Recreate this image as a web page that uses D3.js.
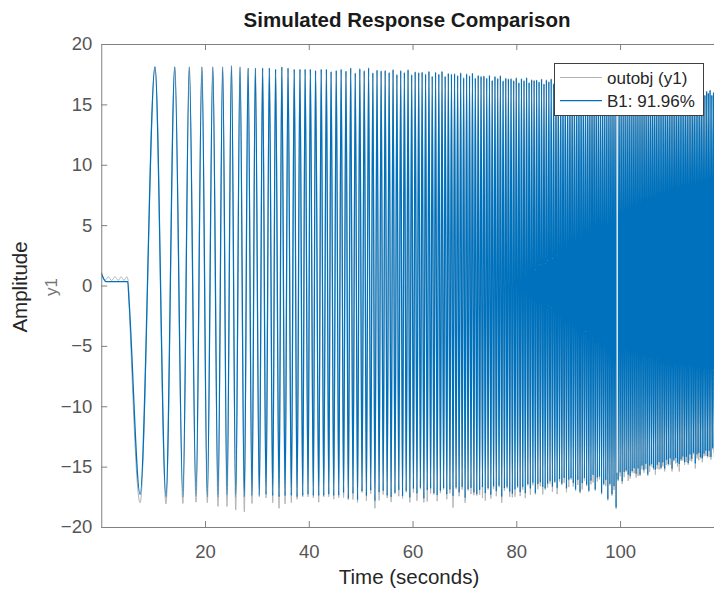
<!DOCTYPE html>
<html>
<head>
<meta charset="utf-8">
<script src="https://cdn.jsdelivr.net/npm/d3@7"></script>
<style>
  body { margin: 0; background: #fff; }
  svg { display: block; }
  text { font-family: "Liberation Sans", Arial, sans-serif; }
</style>
</head>
<body>
<svg id="chart" width="714" height="591"></svg>
<script>
// ---- values ----
const xTicks = [20, 40, 60, 80, 100];
const yTicks = [-20, -15, -10, -5, 0, 5, 10, 15, 20];
const xMax = 118.2;

// quiet start, before the sweep kicks in
const startT = [0, 0.9, 5.1, 5.35];
const startB1 = [1.05, 0.32, 0.32, -1.2];
const bumpT = [0, 0.75, 1.36, 2.0, 2.65, 3.3, 3.8, 4.4, 4.9, 5.2, 5.35];
const bumpOut = [1.0, 0.45, 0.72, 0.42, 0.72, 0.42, 0.72, 0.42, 0.72, 0.4, -1.2];

// extrema that can be read one by one (7 s .. 45 s)
const troughT = [7.49, 12.48, 15.74, 18.27, 20.44, 22.51, 24.24, 25.92, 27.58, 29.06, 30.47, 31.76,
                 33.05, 34.27, 35.43, 36.64, 37.74, 38.83, 39.86, 40.88, 41.92, 42.88, 43.85, 44.81];
const peakT = [10.36, 14.17, 16.97, 19.4, 21.5, 23.4, 25.1, 26.75, 28.3, 29.7, 31.1, 32.4,
               33.6, 34.8, 36.0, 37.2, 38.3, 39.3, 40.3, 41.3, 42.4, 43.4, 44.3, 45.3];
const peakB1 = [18.1, 18.1, 18.1, 18.1, 18.1, 18.1, 18.2, 18.1, 18.0, 18.0, 18.0, 18.0,
                17.9, 18.1, 18.0, 17.9, 17.9, 17.9, 17.9, 17.8, 17.9, 17.9, 17.7, 17.8];
const troughB1 = [-17.3, -17.5, -17.5, -17.4, -17.5, -17.5, -17.4, -17.5, -17.5, -17.4, -17.4, -17.3,
                  -17.4, -17.5, -17.4, -17.4, -17.5, -17.4, -17.3, -17.4, -17.4, -17.4, -17.3, -17.4];
const troughOut = [-18.0, -18.1, -18.05, -17.95, -18.0, -18.3, -18.3, -18.6, -18.75, -18.05, -17.5, -17.6,
                   -18.0, -18.45, -18.1, -18.0, -17.7, -17.5, -17.5, -17.6, -17.95, -17.5, -17.5, -17.7];

// dense part: local period and envelopes read at a few times
const periodT = [45, 50, 55, 60, 65, 70, 75, 80, 85, 90, 95, 100, 105, 110, 118];
const periodS = [0.95, 0.85, 0.76, 0.68, 0.62, 0.57, 0.53, 0.5, 0.47, 0.44, 0.41, 0.39, 0.37, 0.35, 0.33];
const upperT = [45, 50, 55, 60, 65, 70, 75, 80, 85, 90, 95, 100, 105, 110, 118];
const upperV = [17.9, 17.9, 17.8, 17.7, 17.6, 17.5, 17.3, 17.1, 17.0, 16.9, 16.8, 16.6, 16.5, 16.3, 16.0];
const lowerT = [45, 50, 55, 60, 65, 70, 75, 80, 85, 90, 95, 99, 100.5, 105, 110, 115, 118];
const lowerV = [-17.4, -17.3, -17.2, -17.1, -17.0, -17.0, -16.9, -16.9, -16.5, -16.2, -16.0, -16.2,
                -15.6, -15.1, -14.6, -14.1, -13.7];
const topJitter = [0, -0.15, 0.1, -0.3, 0.05, -0.1, 0.15, -0.25, 0, -0.05];
const lowJitter = [0, 0.2, -0.3, 0.1, -0.45, 0.25, -0.15, 0.3, -0.6, 0.1, 0.2, -0.2, -0.35];
const outExtra = [0.2, 0.4, 0.1, 0.5, 0.2, 0.1, 0.4, 0.3, 0.6, 0.1, 0.3];
const spikeT = [91.5, 92.3, 93.8, 95.3, 96.4, 97.5, 98.4, 99.35];
const spikeB1 = [-16.9, -17.1, -17.0, -16.9, -17.2, -17.7, -17.3, -18.4];
const dipT = [53.5, 63.0, 66.3, 68.0, 73.5, 79.0];
const dipOut = [-17.8, -17.9, -17.7, -18.4, -17.6, -17.3];
// pale vertical streak near t = 99.4
const streakT = 99.45;
const streakV = [17.3, -15.5];

const legendNames = ["outobj (y1)", "B1: 91.96%"];
const colors = { out: "#b3b3b3", b1: "#0072bd" };

// ---- build extrema lists ----
const b1 = [], out = [];
startT.forEach((t, i) => b1.push([t, startB1[i]]));
bumpT.forEach((t, i) => out.push([t, bumpOut[i]]));
for (let i = 0; i < peakT.length; i++) {
  b1.push([troughT[i], troughB1[i]]);
  b1.push([peakT[i], peakB1[i]]);
  out.push([troughT[i], troughOut[i]]);
  out.push([peakT[i], peakB1[i]]);
}
const period = d3.scaleLinear().domain(periodT).range(periodS).clamp(true);
const upper = d3.scaleLinear().domain(upperT).range(upperV).clamp(true);
const lower = d3.scaleLinear().domain(lowerT).range(lowerV).clamp(true);
const usedSpike = new Set(), usedDip = new Set();
let t = peakT[peakT.length - 1], k = 0;
while (t < xMax + 1) {
  const p = period(t);
  const tr = t + p / 2;
  let vb = lower(tr) + lowJitter[k % lowJitter.length];
  let vo = vb - outExtra[k % outExtra.length];
  spikeT.forEach((s, j) => {
    if (!usedSpike.has(j) && Math.abs(s - tr) <= p / 2) {
      vb = spikeB1[j]; vo = Math.min(vo, spikeB1[j] - 0.1); usedSpike.add(j);
    }
  });
  dipT.forEach((s, j) => {
    if (!usedDip.has(j) && Math.abs(s - tr) <= p / 2) {
      vo = Math.min(vo, dipOut[j]); usedDip.add(j);
    }
  });
  b1.push([tr, vb]);
  out.push([tr, vo]);
  const tp = t + p;
  const vp = upper(tp) + topJitter[k % topJitter.length];
  b1.push([tp, vp]);
  out.push([tp, vp]);
  t = tp; k++;
}

// ---- drawing ----
const svg = d3.select("#chart");
const L = 101.25, R = 714.5, T = 44, B = 527;
const x = d3.scaleLinear().domain([0, xMax]).range([L, R]);
const y = d3.scaleLinear().domain([-20, 20]).range([B, T]);

svg.append("defs").append("clipPath").attr("id", "clip")
  .append("rect").attr("x", L).attr("y", T).attr("width", R - L).attr("height", B - T);

const line = d3.line().x(d => x(d[0])).y(d => y(d[1])).curve(d3.curveMonotoneX);

const plot = svg.append("g").attr("clip-path", "url(#clip)");
plot.append("path").datum(out)
  .attr("fill", "none").attr("stroke", colors.out).attr("stroke-width", 1).attr("d", line);
plot.append("path").datum(b1)
  .attr("fill", "none").attr("stroke", colors.b1).attr("stroke-width", 1.3).attr("d", line);
plot.append("line")
  .attr("x1", x(streakT)).attr("x2", x(streakT))
  .attr("y1", y(streakV[0])).attr("y2", y(streakV[1]))
  .attr("stroke", "#dfe9f2").attr("stroke-width", 1.5);

// axes
const axisColor = "#808080", tickText = "#555";
function style(g) {
  g.select(".domain").attr("stroke", axisColor);
  g.selectAll(".tick line").attr("stroke", axisColor);
  g.selectAll(".tick text").attr("fill", tickText).attr("font-size", 18.5)
    .attr("font-family", "'Liberation Sans', Arial, sans-serif");
}
svg.append("g").attr("transform", `translate(0,${B})`)
  .call(d3.axisBottom(x).tickValues(xTicks).tickSize(-6).tickSizeOuter(0).tickPadding(18))
  .call(style);
svg.append("g").attr("transform", `translate(0,${T})`)
  .call(d3.axisTop(x).tickValues(xTicks).tickSize(-6).tickSizeOuter(0).tickFormat(""))
  .call(style);
svg.append("g").attr("transform", `translate(${L},0)`)
  .call(d3.axisLeft(y).tickValues(yTicks).tickSize(-6).tickSizeOuter(0).tickPadding(9))
  .call(style);

// title and labels
svg.append("text").attr("x", 407).attr("y", 27).attr("text-anchor", "middle")
  .attr("font-size", 20.5).attr("font-weight", "bold").attr("fill", "#1a1a1a")
  .text("Simulated Response Comparison");
svg.append("text").attr("x", 409).attr("y", 584).attr("text-anchor", "middle")
  .attr("font-size", 20.5).attr("fill", "#262626").text("Time (seconds)");
svg.append("text").attr("transform", "translate(27,287) rotate(-90)").attr("text-anchor", "middle")
  .attr("font-size", 20.5).attr("fill", "#262626").text("Amplitude");
svg.append("text").attr("transform", "translate(57,287) rotate(-90)").attr("text-anchor", "middle")
  .attr("font-size", 17).attr("fill", "#777").text("y1");

// legend
const lg = svg.append("g");
lg.append("rect").attr("x", 554.5).attr("y", 63.5).attr("width", 149).attr("height", 52)
  .attr("fill", "#fff").attr("stroke", "#404040").attr("stroke-width", 1);
[colors.out, colors.b1].forEach((c, i) => {
  const yy = 77.5 + i * 23.2;
  lg.append("line").attr("x1", 560).attr("x2", 602).attr("y1", yy).attr("y2", yy)
    .attr("stroke", c).attr("stroke-width", 1.2);
  lg.append("text").attr("x", 607).attr("y", yy + 6).attr("font-size", 17).attr("fill", "#262626")
    .text(legendNames[i]);
});
</script>
</body>
</html>
